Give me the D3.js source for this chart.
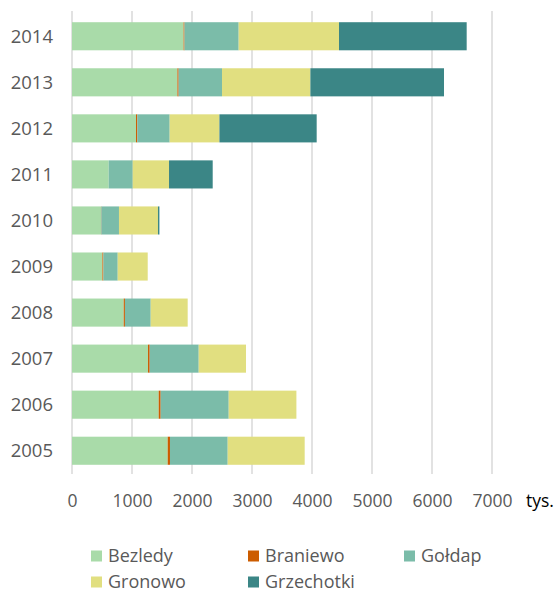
<!DOCTYPE html>
<html>
<head>
<meta charset="utf-8">
<script src="https://cdn.jsdelivr.net/npm/d3@7"></script>
<style>
  body { margin: 0; background: #fff; }
  svg text { font-family: "Open Sans", sans-serif; }
</style>
</head>
<body>
<div id="chart"></div>
<script>
// data (tys.)
const years = ['2014', '2013', '2012', '2011', '2010', '2009', '2008', '2007', '2006', '2005'];
const seriesNames = ['Bezledy', 'Braniewo', 'Gołdap', 'Gronowo', 'Grzechotki'];
const bezledy    = [1860, 1757, 1067, 612, 483, 507, 862, 1267, 1445, 1595];
const braniewo   = [15, 20, 22, 0, 6, 16, 20, 28, 33, 38];
const goldap     = [903, 723, 539, 400, 294, 239, 430, 817, 1134, 962];
const gronowo    = [1672, 1473, 829, 605, 650, 500, 616, 788, 1128, 1283];
const grzechotki = [2128, 2227, 1621, 728, 24, 0, 0, 0, 0, 0];
const xTicks = [0, 1000, 2000, 3000, 4000, 5000, 6000, 7000];
const colors = ['#a9dba9', '#cc5c00', '#7bbca9', '#e1df80', '#3b8686'];

const w = 559, h = 593;
const margins = { left: 72, top: 11, right: 66, bottom: 119 };

const svg = d3.select('#chart').append('svg')
  .attr('width', w)
  .attr('height', h);

const table = years.map((y, i) => ({
  year: y,
  Bezledy: bezledy[i],
  Braniewo: braniewo[i],
  'Gołdap': goldap[i],
  Gronowo: gronowo[i],
  Grzechotki: grzechotki[i]
}));

const stacked = d3.stack().keys(seriesNames)(table);

const x = d3.scaleLinear()
  .domain([0, 7000])
  .range([margins.left, margins.left + 420]);

const y = d3.scaleBand()
  .domain(years)
  .range([margins.top + 2, h - margins.bottom])
  .paddingInner(0.39)
  .paddingOuter(0.2);

const color = d3.scaleOrdinal().domain(seriesNames).range(colors);

// gridlines
svg.append('g')
  .attr('class', 'grid')
  .selectAll('line')
  .data(xTicks)
  .enter()
  .append('line')
  .attr('x1', d => x(d))
  .attr('x2', d => x(d))
  .attr('y1', margins.top)
  .attr('y2', h - margins.bottom)
  .attr('stroke', '#d9d9d9')
  .attr('stroke-width', 1.5);

// bars
svg.append('g')
  .selectAll('g')
  .data(stacked)
  .enter()
  .append('g')
  .attr('fill', d => color(d.key))
  .selectAll('rect')
  .data(d => d)
  .enter()
  .append('rect')
  .attr('x', d => x(d[0]))
  .attr('y', d => y(d.data.year))
  .attr('width', d => Math.max(0, x(d[1]) - x(d[0])))
  .attr('height', y.bandwidth());

// y labels
svg.append('g')
  .selectAll('text')
  .data(years)
  .enter()
  .append('text')
  .attr('x', 53)
  .attr('y', d => y(d) + y.bandwidth() / 2)
  .attr('dy', '0.35em')
  .attr('text-anchor', 'end')
  .attr('font-size', '18.5px')
  .attr('fill', '#595959')
  .text(d => d);

// x axis labels
const xAxis = d3.axisBottom(x)
  .tickValues(xTicks)
  .tickFormat(d3.format('d'))
  .tickSize(0)
  .tickPadding(0);

const gx = svg.append('g')
  .attr('transform', 'translate(0,' + 495 + ')')
  .call(xAxis);
gx.select('.domain').remove();
gx.selectAll('text')
  .attr('font-family', '"Open Sans", sans-serif')
  .attr('font-size', '17.5px')
  .attr('fill', '#595959')
  .attr('dy', '0.71em')
  .attr('y', 0);

svg.append('text')
  .attr('x', 526)
  .attr('y', 501)
  .attr('dy', '0.35em')
  .attr('font-size', '17.5px')
  .attr('fill', '#000')
  .text('tys.');

// legend
const legend = svg.append('g').attr('class', 'legend');
const cols = [91, 248, 404];
const rows = [556, 582];
seriesNames.forEach((name, i) => {
  const cx = cols[i % 3];
  const cy = rows[Math.floor(i / 3)];
  legend.append('rect')
    .attr('x', cx)
    .attr('y', cy - 5.5)
    .attr('width', 11)
    .attr('height', 11)
    .attr('fill', color(name));
  legend.append('text')
    .attr('x', cx + 17)
    .attr('y', cy)
    .attr('dy', '0.35em')
    .attr('font-size', '18px')
    .attr('fill', '#595959')
    .text(name);
});
</script>
</body>
</html>
